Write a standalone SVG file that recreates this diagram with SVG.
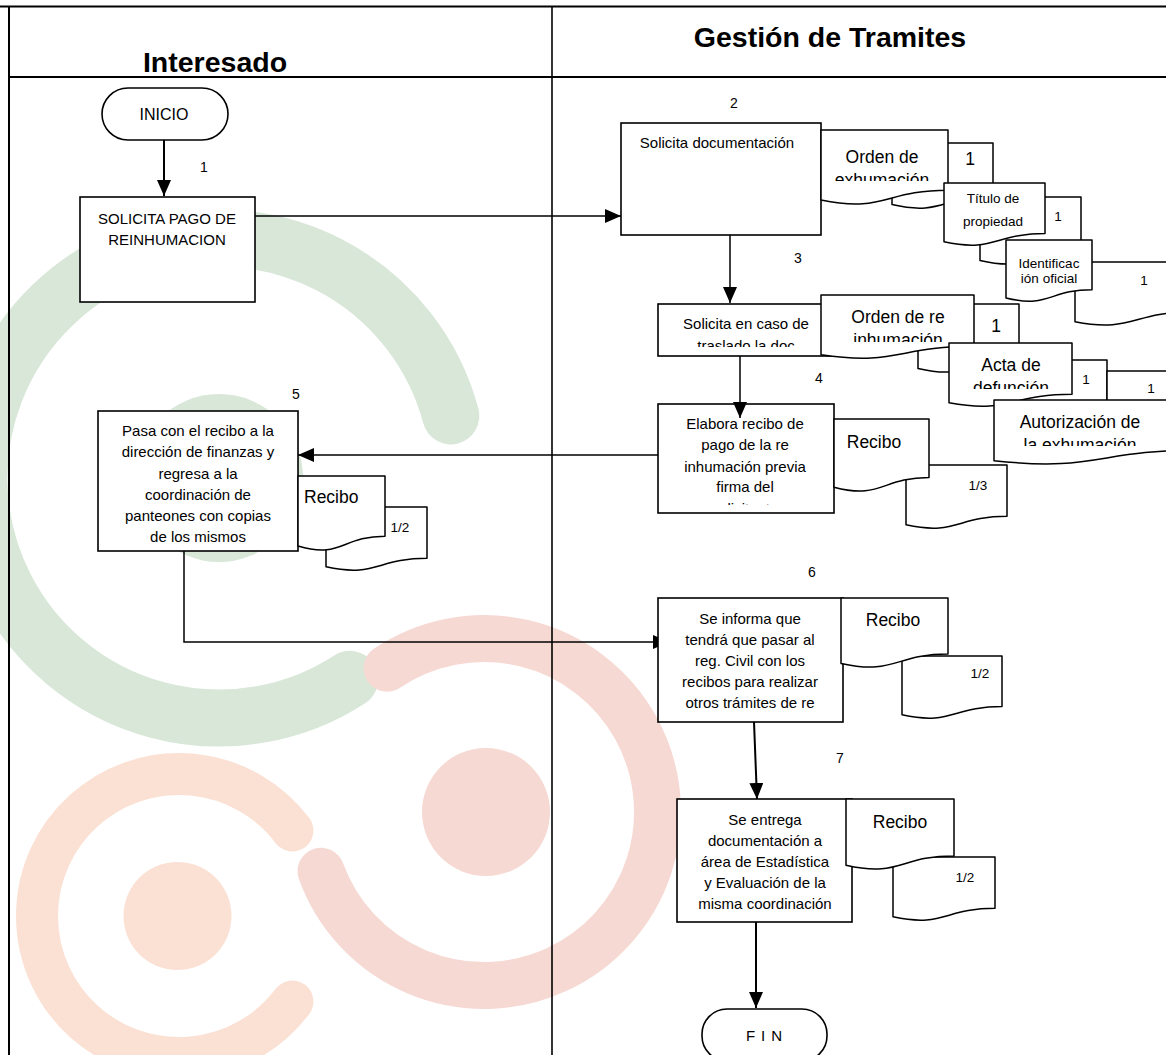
<svg xmlns="http://www.w3.org/2000/svg" width="1166" height="1055" viewBox="0 0 1166 1055">
  <style>
    .lane{fill:none;stroke:#000;stroke-width:2}
    .box{fill:#fff;stroke:#000;stroke-width:1.6}
    .doc{fill:#fff;stroke:#000;stroke-width:1.5;stroke-linejoin:round}
    .conn{fill:none;stroke:#000;stroke-width:1.5}
    .conn.heavy{stroke-width:2}
    .t{font-family:"Liberation Sans",Arial,sans-serif;font-size:15px;fill:#000;text-anchor:middle}
    .d{font-size:17.5px}
    .s{font-size:13.5px}
    .n{font-size:14px}
    .hd{font-family:"Liberation Sans",Arial,sans-serif;font-weight:bold;font-size:28.5px;fill:#000;text-anchor:middle}
  </style>
  <defs>
    <marker id="arrow" markerUnits="userSpaceOnUse" markerWidth="16" markerHeight="14" refX="16" refY="7" orient="auto">
      <path d="M0,0 L16,7 L0,14 Z" fill="#000"/>
    </marker>
    <clipPath id="clipA"><rect x="800" y="0" width="200" height="181"/></clipPath>
    <clipPath id="clipB3"><rect x="640" y="0" width="200" height="347"/></clipPath>
    <clipPath id="clipD"><rect x="800" y="0" width="200" height="342"/></clipPath>
    <clipPath id="clipE"><rect x="940" y="0" width="150" height="389"/></clipPath>
    <clipPath id="clipF"><rect x="990" y="0" width="176" height="446"/></clipPath>
    <clipPath id="clipB4"><rect x="640" y="0" width="200" height="505"/></clipPath>
  </defs>

  <rect width="1166" height="1055" fill="#fff"/>

  <!-- background emblem -->
  <g id="emblem" fill="none" stroke-linecap="round">
    <path d="M450.8,415.9 A240,240 0 1 0 349.7,679.3" stroke="#d8e7d8" stroke-width="57"/>
    <circle cx="219" cy="478" r="84" fill="#d8e7d8" stroke="none"/>
    <path d="M387,668.2 A173.5,173.5 0 1 1 321,871.3" stroke="#f6d9d3" stroke-width="47"/>
    <circle cx="486" cy="812" r="64" fill="#f6d9d3" stroke="none"/>
    <path d="M292.4,830.5 A142,142 0 1 0 292.4,1001.5" stroke="#fbe1d4" stroke-width="42"/>
    <circle cx="177.5" cy="916" r="54" fill="#fbe1d4" stroke="none"/>
  </g>

  <!-- swimlane frame -->
  <g id="lanes">
    <line class="lane" x1="0" y1="6.5" x2="1166" y2="6.5"/>
    <line class="lane" x1="9" y1="6.5" x2="9" y2="1055"/>
    <line class="lane" x1="552" y1="6.5" x2="552" y2="1055" style="stroke-width:1.6"/>
    <line class="lane" x1="9" y1="77" x2="1166" y2="77"/>
    <text class="hd" x="215" y="72">Interesado</text>
    <text class="hd" x="830" y="47">Gestión de Tramites</text>
  </g>

  <!-- connectors -->
  <g id="connectors">
    <line class="conn heavy" x1="164" y1="140" x2="164" y2="196" marker-end="url(#arrow)"/>
    <line class="conn" x1="255" y1="216" x2="621" y2="216" marker-end="url(#arrow)"/>
    <line class="conn" x1="730" y1="235" x2="730" y2="303" marker-end="url(#arrow)"/>
    <line class="conn" x1="658" y1="455" x2="298" y2="455" marker-end="url(#arrow)"/>
    <polyline class="conn" points="184,551 184,642 669,642" marker-end="url(#arrow)"/>
    <line class="conn heavy" x1="754" y1="722" x2="757" y2="799" marker-end="url(#arrow)"/>
    <line class="conn heavy" x1="756" y1="922" x2="756" y2="1008" marker-end="url(#arrow)"/>
  </g>

  <!-- start -->
  <g id="inicio">
    <rect class="box" x="102" y="88" width="126" height="52" rx="26"/>
    <text class="t" x="164" y="119.5" style="font-size:16px">INICIO</text>
  </g>

  <!-- step 1 -->
  <g id="step1">
    <text class="t n" x="204" y="172">1</text>
    <rect class="box" x="80" y="197" width="175" height="105"/>
    <text class="t" x="167" y="224">SOLICITA PAGO DE</text>
    <text class="t" x="167" y="245">REINHUMACION</text>
  </g>

  <!-- step 2 -->
  <g id="step2">
    <text class="t n" x="734" y="108">2</text>
    <rect class="box" x="621" y="123" width="200" height="112"/>
    <text class="t" x="717" y="148">Solicita documentación</text>
    <path class="doc" d="M892,143 H993 V195.9 C942.5,195.9 942.5,216.1 892,204.6 Z"/>
    <text class="t d" x="970" y="165">1</text>
    <path class="doc" d="M821,130 H948 V190.2 C884.5,190.2 884.5,213 821,200 Z"/>
    <text class="t d" x="882" y="163">Orden de</text>
    <text class="t d" x="882" y="186" clip-path="url(#clipA)">exhumación</text>
    <path class="doc" d="M980,197 H1081 V251.5 C1030.5,251.5 1030.5,272.3 980,260.5 Z"/>
    <text class="t s" x="1058" y="221">1</text>
    <path class="doc" d="M944,183 H1045 V233.5 C994.5,233.5 994.5,252.7 944,241.8 Z"/>
    <text class="t s" x="993" y="203">Título de</text>
    <text class="t s" x="993" y="226">propiedad</text>
    <path class="doc" d="M1075,262 H1190 V312 C1132.5,312 1132.5,332.8 1075,321.8 Z"/>
    <text class="t s" x="1144" y="285">1</text>
    <path class="doc" d="M1006,240 H1092 V289.7 C1049,289.7 1049,308.6 1006,297.9 Z"/>
    <text class="t s" x="1049" y="268">Identificac</text>
    <text class="t s" x="1049" y="283">ión oficial</text>
  </g>

  <!-- step 3 -->
  <g id="step3">
    <text class="t n" x="798" y="263">3</text>
    <rect class="box" x="658" y="304" width="175" height="52"/>
    <text class="t" x="746" y="329">Solicita en caso de</text>
    <text class="t" x="746" y="351" clip-path="url(#clipB3)">traslado la doc</text>
    <path class="doc" d="M918,304 H1019 V359.3 C968.5,359.3 968.5,380.4 918,368.4 Z"/>
    <text class="t d" x="996" y="332">1</text>
    <path class="doc" d="M821,295 H974 V346.3 C897.5,346.3 897.5,365.8 821,354.8 Z"/>
    <text class="t d" x="898" y="323">Orden de re</text>
    <text class="t d" x="898" y="346" clip-path="url(#clipD)">inhumación</text>
    <path class="doc" d="M1006,360 H1107 V414.5 C1056.5,414.5 1056.5,435.3 1006,423.5 Z"/>
    <text class="t s" x="1086" y="384">1</text>
    <path class="doc" d="M949,343 H1072 V394.3 C1010.5,394.3 1010.5,413.8 949,402.8 Z"/>
    <text class="t d" x="1011" y="371">Acta de</text>
    <text class="t d" x="1011" y="394" clip-path="url(#clipE)">defunción</text>
    <path class="doc" d="M1107,371 H1200 V425.5 C1153.5,425.5 1153.5,446.3 1107,434.5 Z"/>
    <text class="t s" x="1151" y="393">1</text>
    <path class="doc" d="M994,400 H1200 V450 C1097,450 1097,472 994,460.7 Z"/>
    <text class="t d" x="1080" y="428">Autorización de</text>
    <text class="t d" x="1080" y="451" clip-path="url(#clipF)">la exhumación</text>
  </g>

  <!-- step 4 -->
  <g id="step4">
    <text class="t n" x="819" y="383">4</text>
    <rect class="box" x="658" y="404" width="176" height="109"/>
    <text class="t" x="745" y="429">Elabora recibo de</text>
    <text class="t" x="745" y="450">pago de la re</text>
    <text class="t" x="745" y="472">inhumación previa</text>
    <text class="t" x="745" y="492">firma del</text>
    <text class="t" x="745" y="514" clip-path="url(#clipB4)">solicitante</text>
    <path class="doc" d="M906,465 H1007 V516.3 C956.5,516.3 956.5,535.8 906,524.8 Z"/>
    <text class="t s" x="978" y="490">1/3</text>
    <path class="doc" d="M834,419 H929 V477.5 C881.5,477.5 881.5,499.8 834,487.2 Z"/>
    <text class="t d" x="874" y="448">Recibo</text>
  </g>

  <!-- connector drawn over step 4 box -->
  <g id="connectors-front">
    <line class="conn" x1="740" y1="356" x2="740" y2="418" marker-end="url(#arrow)"/>
  </g>

  <!-- step 5 -->
  <g id="step5">
    <text class="t n" x="296" y="399">5</text>
    <rect class="box" x="98" y="411" width="200" height="140"/>
    <text class="t" x="198" y="436">Pasa con el recibo a la</text>
    <text class="t" x="198" y="457">dirección de finanzas y</text>
    <text class="t" x="198" y="478.5">regresa a la</text>
    <text class="t" x="198" y="499.5">coordinación de</text>
    <text class="t" x="198" y="521">panteones con copias</text>
    <text class="t" x="198" y="542">de los mismos</text>
    <path class="doc" d="M326,507 H427 V558.3 C376.5,558.3 376.5,577.8 326,566.8 Z"/>
    <text class="t s" x="400" y="532">1/2</text>
    <path class="doc" d="M298,476 H385 V536.2 C341.5,536.2 341.5,559 298,546 Z"/>
    <text class="t d" x="304" y="503" style="text-anchor:start">Recibo</text>
  </g>

  <!-- step 6 -->
  <g id="step6">
    <text class="t n" x="812" y="577">6</text>
    <rect class="box" x="658" y="598" width="185" height="124"/>
    <text class="t" x="750" y="624">Se informa que</text>
    <text class="t" x="750" y="645">tendrá que pasar al</text>
    <text class="t" x="750" y="666">reg. Civil con los</text>
    <text class="t" x="750" y="687">recibos para realizar</text>
    <text class="t" x="750" y="708">otros trámites de re</text>
    <path class="doc" d="M902,656 H1002 V706.5 C952,706.5 952,725.7 902,714.8 Z"/>
    <text class="t s" x="980" y="678">1/2</text>
    <path class="doc" d="M841,598 H948 V654.1 C894.5,654.1 894.5,675.5 841,663.4 Z"/>
    <text class="t d" x="893" y="626">Recibo</text>
  </g>

  <!-- step 7 -->
  <g id="step7">
    <text class="t n" x="840" y="763">7</text>
    <rect class="box" x="677" y="799" width="175" height="123"/>
    <text class="t" x="765" y="825">Se entrega</text>
    <text class="t" x="765" y="846">documentación a</text>
    <text class="t" x="765" y="867">área de Estadística</text>
    <text class="t" x="765" y="888">y Evaluación de la</text>
    <text class="t" x="765" y="909">misma coordinación</text>
    <path class="doc" d="M893,857 H995 V908.3 C944,908.3 944,927.8 893,916.8 Z"/>
    <text class="t s" x="965" y="882">1/2</text>
    <path class="doc" d="M846,799 H954 V855.9 C900,855.9 900,877.6 846,865.3 Z"/>
    <text class="t d" x="900" y="828">Recibo</text>
  </g>

  <!-- end -->
  <g id="fin">
    <rect class="box" x="702" y="1009" width="125" height="52" rx="25"/>
    <text class="t" x="767" y="1041" style="letter-spacing:6px">FIN</text>
  </g>
</svg>
